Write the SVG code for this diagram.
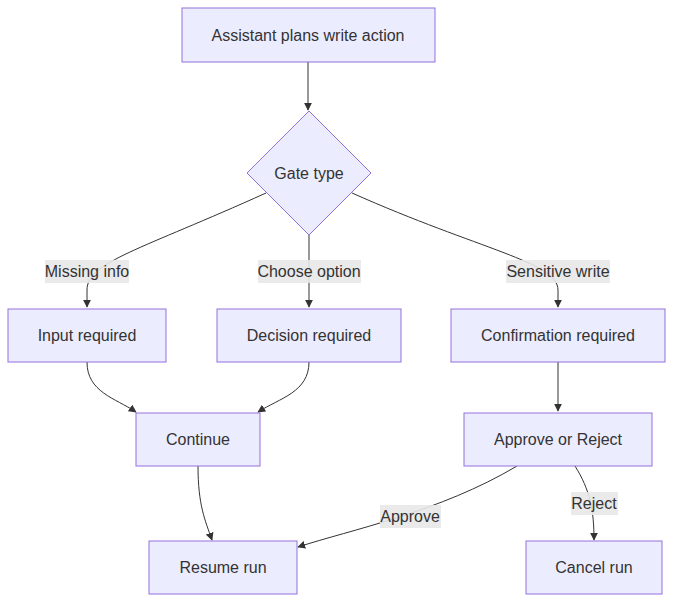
<svg xmlns="http://www.w3.org/2000/svg" width="673" height="603" viewBox="0 0 673 603">
<style>
.n{fill:#ECECFF;stroke:#9370DB;stroke-width:1}
.t{font-family:"Liberation Sans",Arial,sans-serif;font-size:16px;fill:#333;text-anchor:middle;dominant-baseline:central}
.e{fill:none;stroke:#333;stroke-width:1}
.lb{fill:#e8e8e8;opacity:0.9}
</style>
<defs><marker id="ar" viewBox="0 0 10 10" refX="9" refY="5" markerWidth="8" markerHeight="8" orient="auto"><path d="M0,0L10,5L0,10z" fill="#333"/></marker></defs>
<rect width="673" height="603" fill="#fff"/>
<g id="edges">
<path class="e" marker-end="url(#ar)" d="M308,62L308,110"/>
<path class="e" marker-end="url(#ar)" d="M266,193C140,250 87,262 87,290L87,307"/>
<path class="e" marker-end="url(#ar)" d="M309,235L309,307"/>
<path class="e" marker-end="url(#ar)" d="M352,193C480,250 558,262 558,290L558,307"/>
<path class="e" marker-end="url(#ar)" d="M87,362C87,392 115,398 136,412"/>
<path class="e" marker-end="url(#ar)" d="M309,362C309,392 280,398 258,412"/>
<path class="e" marker-end="url(#ar)" d="M198,466C198,505 205,520 212,540"/>
<path class="e" marker-end="url(#ar)" d="M558,362L558,411"/>
<path class="e" marker-end="url(#ar)" d="M517,466C440,512 350,530 298,547"/>
<path class="e" marker-end="url(#ar)" d="M575,466C590,490 594,510 594,540"/>
<rect class="lb" x="45" y="260" width="84" height="23"/><text class="t" x="87" y="271">Missing info</text>
<rect class="lb" x="258" y="260" width="103" height="23"/><text class="t" x="309" y="271">Choose option</text>
<rect class="lb" x="506" y="260" width="104" height="23"/><text class="t" x="558" y="271">Sensitive write</text>
<rect class="lb" x="380" y="505" width="61" height="23"/><text class="t" x="410" y="516">Approve</text>
<rect class="lb" x="571" y="492" width="47" height="23"/><text class="t" x="594" y="503">Reject</text>
</g>
<g id="A"><rect class="n" x="182" y="8" width="253" height="54"/><text class="t" x="308" y="35">Assistant plans write action</text></g>
<g id="G"><path class="n" d="M309,111L371,173L309,235L247,173z"/><text class="t" x="309" y="173">Gate type</text></g>
<g id="I"><rect class="n" x="8" y="309" width="158" height="53"/><text class="t" x="87" y="335">Input required</text></g>
<g id="D"><rect class="n" x="217" y="309" width="184" height="53"/><text class="t" x="309" y="335">Decision required</text></g>
<g id="C"><rect class="n" x="451" y="309" width="214" height="53"/><text class="t" x="558" y="335">Confirmation required</text></g>
<g id="N"><rect class="n" x="136" y="413" width="124" height="53"/><text class="t" x="198" y="439">Continue</text></g>
<g id="R"><rect class="n" x="464" y="413" width="188" height="53"/><text class="t" x="558" y="439">Approve or Reject</text></g>
<g id="S"><rect class="n" x="149" y="541" width="148" height="53"/><text class="t" x="223" y="567">Resume run</text></g>
<g id="X"><rect class="n" x="526" y="541" width="136" height="53"/><text class="t" x="594" y="567">Cancel run</text></g>
</svg>
